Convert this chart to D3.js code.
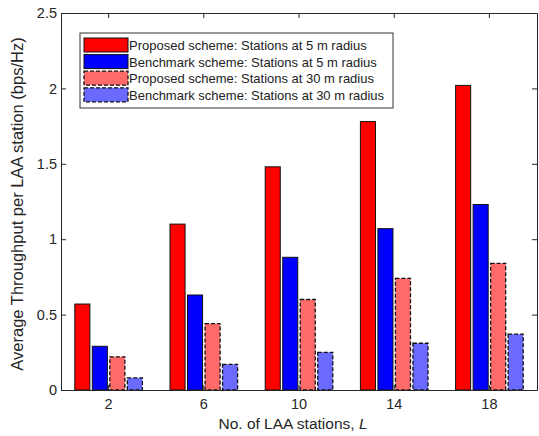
<!DOCTYPE html>
<html>
<head>
<meta charset="utf-8">
<script src="https://cdn.jsdelivr.net/npm/d3@7"></script>
<style>
  body { margin: 0; background: #fff; }
  svg { font-family: 'Liberation Sans', Arial, sans-serif; }
</style>
</head>
<body>
<div id="chart"></div>
<script>
const stations = ['2', '6', '10', '14', '18']
const seriesNames = [
  'Proposed scheme: Stations at 5 m radius',
  'Benchmark scheme: Stations at 5 m radius',
  'Proposed scheme: Stations at 30 m radius',
  'Benchmark scheme: Stations at 30 m radius'
]
const proposed5 = [0.57, 1.10, 1.48, 1.78, 2.02]
const benchmark5 = [0.29, 0.63, 0.88, 1.07, 1.23]
const proposed30 = [0.22, 0.44, 0.60, 0.74, 0.84]
const benchmark30 = [0.08, 0.17, 0.25, 0.31, 0.37]
const yTicks = [0, 0.5, 1, 1.5, 2, 2.5]

const series = [proposed5, benchmark5, proposed30, benchmark30]
const fills = ['#ff0000', '#0000ff', '#ff6a6a', '#6a6aff']
const dashed = [false, false, true, true]

const W = 539, H = 436
const margin = { top: 13, right: 2, bottom: 46, left: 61 }
const width = W - margin.left - margin.right
const height = H - margin.top - margin.bottom

const svg = d3.select('#chart').append('svg')
  .attr('width', W).attr('height', H)

const g = svg.append('g')
  .attr('transform', `translate(${margin.left},${margin.top})`)

const x = d3.scaleBand().domain(stations).range([0, width]).paddingInner(0).paddingOuter(0)
const inner = d3.scaleBand().domain(d3.range(series.length))
  .range([x.bandwidth() * 0.145, x.bandwidth() * 0.855]).paddingInner(0.14)
const y = d3.scaleLinear().domain([0, 2.5]).range([height, 0])

// bars
series.forEach((vals, si) => {
  g.append('g').selectAll('rect')
    .data(vals)
    .join('rect')
    .attr('x', (d, i) => x(stations[i]) + inner(si))
    .attr('y', d => y(d))
    .attr('width', inner.bandwidth())
    .attr('height', d => y(0) - y(d))
    .attr('fill', fills[si])
    .attr('stroke', '#111')
    .attr('stroke-width', dashed[si] ? 1.3 : 1)
    .attr('stroke-dasharray', dashed[si] ? '4,2' : null)
})

// axes (MATLAB style: ticks inside, box)
const axisColor = '#262626'
const tickLen = 5
const xAxis = g.append('g').attr('transform', `translate(0,${height})`)
  .call(d3.axisBottom(x).tickSizeInner(-tickLen).tickSizeOuter(0).tickPadding(9))
const yAxis = g.append('g')
  .call(d3.axisLeft(y).tickValues(yTicks).tickFormat(d3.format('')).tickSizeInner(-tickLen).tickSizeOuter(0).tickPadding(4))
const xTop = g.append('g')
  .call(d3.axisTop(x).tickSizeInner(-tickLen).tickSizeOuter(0).tickFormat(''))
const yRight = g.append('g').attr('transform', `translate(${width},0)`)
  .call(d3.axisRight(y).tickValues(yTicks).tickSizeInner(-tickLen).tickSizeOuter(0).tickFormat(''))

;[xAxis, yAxis, xTop, yRight].forEach(a => {
  a.select('.domain').attr('stroke', axisColor)
  a.selectAll('.tick line').attr('stroke', axisColor)
  a.selectAll('.tick text').attr('fill', axisColor).style('font-size', '14.5px')
})

// axis labels
const xl = svg.append('text')
  .attr('x', 293)
  .attr('y', 429)
  .attr('text-anchor', 'middle')
  .attr('fill', axisColor)
  .style('font-size', '15.5px')
xl.append('tspan').text('No. of LAA stations,  ')
xl.append('tspan').style('font-style', 'italic').text('L')

svg.append('text')
  .attr('transform', `translate(23,204) rotate(-90)`)
  .attr('text-anchor', 'middle')
  .attr('fill', axisColor)
  .style('font-size', '16.5px')
  .text('Average Throughput per LAA station (bps/Hz)')

// legend
const lg = svg.append('g').attr('transform', 'translate(80,33)')
lg.append('rect')
  .attr('width', 313).attr('height', 75)
  .attr('fill', '#fff').attr('stroke', '#333').attr('stroke-width', 1)
seriesNames.forEach((name, i) => {
  const row = lg.append('g').attr('transform', `translate(4,${5 + i * 16.6})`)
  row.append('rect')
    .attr('width', 44).attr('height', 14)
    .attr('fill', fills[i])
    .attr('stroke', '#111')
    .attr('stroke-width', dashed[i] ? 1.3 : 1)
    .attr('stroke-dasharray', dashed[i] ? '4,2' : null)
  row.append('text')
    .attr('x', 45).attr('y', 12)
    .attr('fill', '#222')
    .style('font-size', '13px')
    .text(name)
})
</script>
</body>
</html>
